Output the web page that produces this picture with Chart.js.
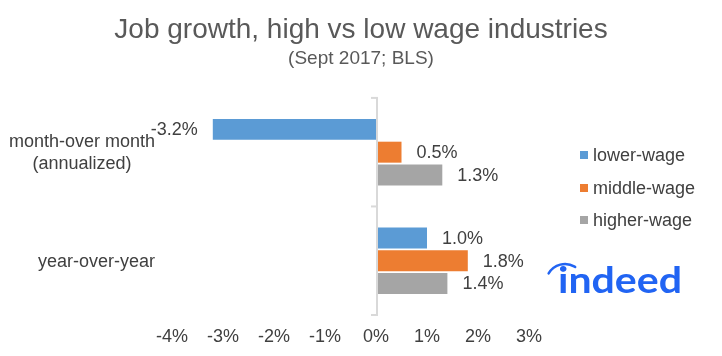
<!DOCTYPE html>
<html>
<head>
<meta charset="utf-8">
<script src="https://cdn.jsdelivr.net/npm/chart.js@4/dist/chart.umd.min.js"></script>
<style>
  html, body { margin: 0; padding: 0; background: #ffffff; }
  #wrap { width: 722px; height: 356px; position: relative; }
</style>
</head>
<body>
<div id="wrap"><canvas id="c"></canvas></div>
<script>
// ---- data ----
const categories = [['month-over month', '(annualized)'], 'year-over-year'];
const seriesNames = ['lower-wage', 'middle-wage', 'higher-wage'];
const lowerWage = [-3.2, 1.0];
const middleWage = [0.5, 1.8];
const higherWage = [1.3, 1.4];
const seriesColors = ['#5B9BD5', '#ED7D31', '#A5A5A5'];
const xTicks = [-4, -3, -2, -1, 0, 1, 2, 3];
const titleText = 'Job growth, high vs low wage industries';
const subtitleText = '(Sept 2017; BLS)';
const brandText = 'indeed';

const FONT = '"Liberation Sans", Arial, Helvetica, sans-serif';
const TXT = '#404040';
Chart.defaults.font.family = FONT;

const seriesValues = [lowerWage, middleWage, higherWage];

// plugin: zero axis line, category separator ticks, category labels, data labels, legend, logo
const decor = {
  id: 'decor',
  afterDatasetsDraw(chart) {
    const ctx = chart.ctx;
    const xs = chart.scales.x, ys = chart.scales.y;
    const area = chart.chartArea;
    const x0 = xs.getPixelForValue(0);
    ctx.save();
    // zero line
    ctx.strokeStyle = '#D9D9D9';
    ctx.lineWidth = 2;
    ctx.beginPath();
    ctx.moveTo(x0 + 1, area.top);
    ctx.lineTo(x0 + 1, area.bottom);
    ctx.stroke();
    // separator ticks at category boundaries
    const n = categories.length;
    const bounds = [area.top];
    for (let i = 0; i < n - 1; i++) {
      bounds.push((ys.getPixelForValue(i) + ys.getPixelForValue(i + 1)) / 2);
    }
    bounds.push(area.bottom);
    ctx.lineWidth = 2;
    bounds.forEach(b => {
      ctx.beginPath();
      ctx.moveTo(x0 - 5, b);
      ctx.lineTo(x0 + 2, b);
      ctx.stroke();
    });

    // category labels (block right aligned, lines centred)
    ctx.fillStyle = TXT;
    ctx.font = '18px ' + FONT;
    ctx.textBaseline = 'middle';
    ctx.textAlign = 'center';
    const rightEdge = 155;
    const lh = 22;
    categories.forEach((lab, i) => {
      const lines = Array.isArray(lab) ? lab : [lab];
      const w = Math.max(...lines.map(l => ctx.measureText(l).width));
      const cx = rightEdge - w / 2;
      const cy = ys.getPixelForValue(i) + 1;
      const startY = cy - (lines.length - 1) * lh / 2;
      lines.forEach((l, k) => ctx.fillText(l, cx, startY + k * lh));
    });

    // data labels
    chart.data.datasets.forEach((ds, di) => {
      const meta = chart.getDatasetMeta(di);
      meta.data.forEach((bar, j) => {
        const v = ds.data[j];
        const s = v.toFixed(1) + '%';
        if (v >= 0) {
          ctx.textAlign = 'left';
          ctx.fillText(s, bar.x + 15, bar.y + 1);
        } else {
          ctx.textAlign = 'right';
          ctx.fillText(s, bar.x - 15, bar.y + 1);
        }
      });
    });

    // legend
    const legX = 580, legY = [155, 188, 220];
    chart.data.datasets.forEach((ds, di) => {
      ctx.fillStyle = ds.backgroundColor;
      ctx.fillRect(legX, legY[di] - 4, 8, 8);
      ctx.fillStyle = TXT;
      ctx.textAlign = 'left';
      ctx.fillText(ds.label, legX + 13, legY[di] + 1);
    });

    // brand logo
    ctx.fillStyle = '#2164F3';
    ctx.strokeStyle = '#2164F3';
    ctx.font = 'bold 36px Lato, ' + FONT;
    ctx.textAlign = 'left';
    ctx.textBaseline = 'alphabetic';
    const tw = ctx.measureText(brandText).width;
    const targetW = 124;
    ctx.save();
    ctx.translate(558, 293);
    ctx.scale(targetW / tw, 1);
    ctx.fillText(brandText, 0, 0);
    ctx.restore();
    ctx.lineWidth = 2.5;
    ctx.lineCap = 'round';
    ctx.beginPath();
    ctx.arc(565, 283, 19, Math.PI * 1.17, Math.PI * 1.68);
    ctx.stroke();
    ctx.restore();
  }
};

new Chart(document.getElementById('c'), {
  type: 'bar',
  data: {
    labels: categories,
    datasets: seriesNames.map((name, i) => ({
      label: name,
      data: seriesValues[i],
      backgroundColor: seriesColors[i],
      borderWidth: 0,
      categoryPercentage: 0.63,
      barPercentage: 0.92
    }))
  },
  options: {
    indexAxis: 'y',
    responsive: true,
    maintainAspectRatio: false,
    animation: false,
    layout: { padding: { left: 0, right: 0, top: 0, bottom: 7 } },
    plugins: {
      legend: { display: false },
      tooltip: { enabled: false },
      title: {
        display: true,
        text: titleText,
        color: '#595959',
        font: { size: 28, weight: 'normal', family: FONT },
        padding: { top: 13.5, bottom: 0 }
      },
      subtitle: {
        display: true,
        text: subtitleText,
        color: '#595959',
        font: { size: 19, weight: 'normal', family: FONT },
        padding: { top: 0, bottom: 28 }
      }
    },
    scales: {
      x: {
        type: 'linear',
        min: xTicks[0],
        max: xTicks[xTicks.length - 1],
        afterBuildTicks(scale) { scale.ticks = xTicks.map(v => ({ value: v })); },
        grid: { display: false, drawTicks: false },
        border: { display: false },
        ticks: {
          color: TXT,
          font: { size: 18 },
          padding: 11,
          callback: v => v + '%'
        },
        afterFit(scale) { scale.height = 34; }
      },
      y: {
        type: 'category',
        position: 'left',
        grid: { display: false, drawTicks: false },
        border: { display: false },
        ticks: { display: false },
        afterFit(scale) { scale.width = 172; }
      },
      yR: {
        type: 'category',
        position: 'right',
        grid: { display: false, drawTicks: false },
        border: { display: false },
        ticks: { display: false },
        afterFit(scale) { scale.width = 193; }
      }
    }
  },
  plugins: [decor]
});
</script>
</body>
</html>
